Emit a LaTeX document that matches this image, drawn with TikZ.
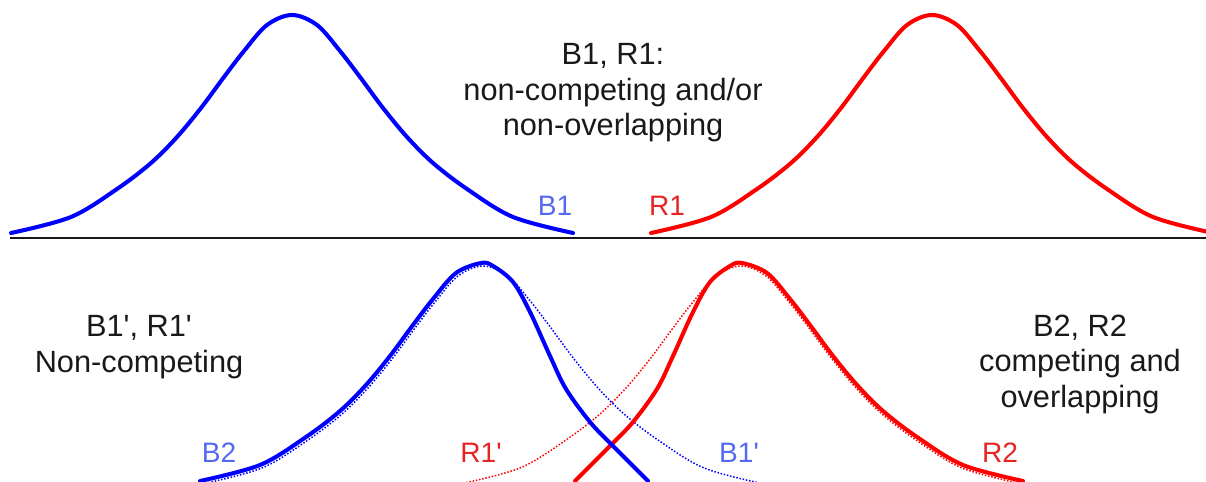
\documentclass[tikz,border=0pt]{standalone}
\usepackage{fontspec}
\setmainfont{Liberation Sans}
\usetikzlibrary{positioning}
\definecolor{tagblue}{RGB}{85,105,240}
\definecolor{tagred}{RGB}{232,35,35}
\definecolor{ink}{RGB}{25,25,25}
\newcommand{\pr}{\textquotesingle}

\begin{document}
\begin{tikzpicture}[x=0.02cm, y=-0.02cm,
  note/.style={align=center, text=ink, inner sep=0pt, font=\fontsize{17.5}{20.2}\selectfont},
  tag/.style={anchor=base, inner sep=0pt, font=\fontsize{16}{19}\selectfont},
  bluetag/.style={tag, text=tagblue},
  redtag/.style={tag, text=tagred},
  thick curve/.style={line width=2.3pt, line join=round, line cap=round},
  thin curve/.style={line width=0.85pt, densely dotted},
  % full niche, both sides wide
  pics/wide hump/.style={code={
    \draw plot[smooth, tension=0.55] coordinates {(-281,218) (-221,202) (-175,174) (-141,148) (-115,122) (-91,93) (-68,62) (-48,36) (-25,10) (0,0)
      (25,10) (48,36) (68,62) (91,93) (115,122) (141,148) (175,174) (221,202) (281,218)};}},
  % niche pushed back on its right side
  pics/left hump/.style={code={
    \draw plot[smooth, tension=0.55] coordinates {(-281,218) (-221,202) (-175,174) (-141,148) (-115,122) (-91,93) (-68,62) (-48,36) (-25,10) (0,0)
      (12,3) (32,19) (49,49) (69,93) (85,126) (109,159) (132,183) (167,218)};}},
  % niche pushed back on its left side
  pics/right hump/.style={code={
    \draw plot[smooth, tension=0.55] coordinates {(-167,218) (-132,183) (-109,159) (-85,126) (-69,93) (-49,49) (-32,19) (-12,3) (0,0)
      (25,10) (48,36) (68,62) (91,93) (115,122) (141,148) (175,174) (221,202) (281,218)};}}]
\useasboundingbox (0,0) rectangle (1206,482);

% top: apart
\pic[blue, thick curve] (bone) at (292,15) {wide hump};
\pic[red, thick curve] (rone) at (932,15) {wide hump};
\node[bluetag] (tb1) at (555,216) {B1};
\node[redtag] (tr1) at (667,216) {R1};
\node[note] (top) at (613,93) {B1, R1:\\non-competing and/or\\non-overlapping};

\coordinate (sepl) at (10,238);
\coordinate (sepr) at (1206,238);
\draw[ink, line width=1.2pt] (sepl) -- (sepr);

% bottom: pushed together
\pic[red, thin curve] (roneb) at (741,266) {wide hump};
\pic[blue, thin curve] (boneb) at (483,266) {wide hump};
\pic[red, thick curve] (rtwo) at (742,263) {right hump};
\pic[blue, thick curve] (btwo) at (481,263) {left hump};
\node[bluetag] (tb2) at (219,462) {B2};
\node[redtag] (tr1b) at (481,462) {R1\pr};
\node[bluetag] (tb1b) at (739,462) {B1\pr};
\node[redtag] (tr2) at (1000,462) {R2};
\node[note] (left) at (139,347) {B1\pr, R1\pr\\Non-competing};
\node[note] (right) at (1080,364) {B2, R2\\competing and\\overlapping};
\end{tikzpicture}
\end{document}
